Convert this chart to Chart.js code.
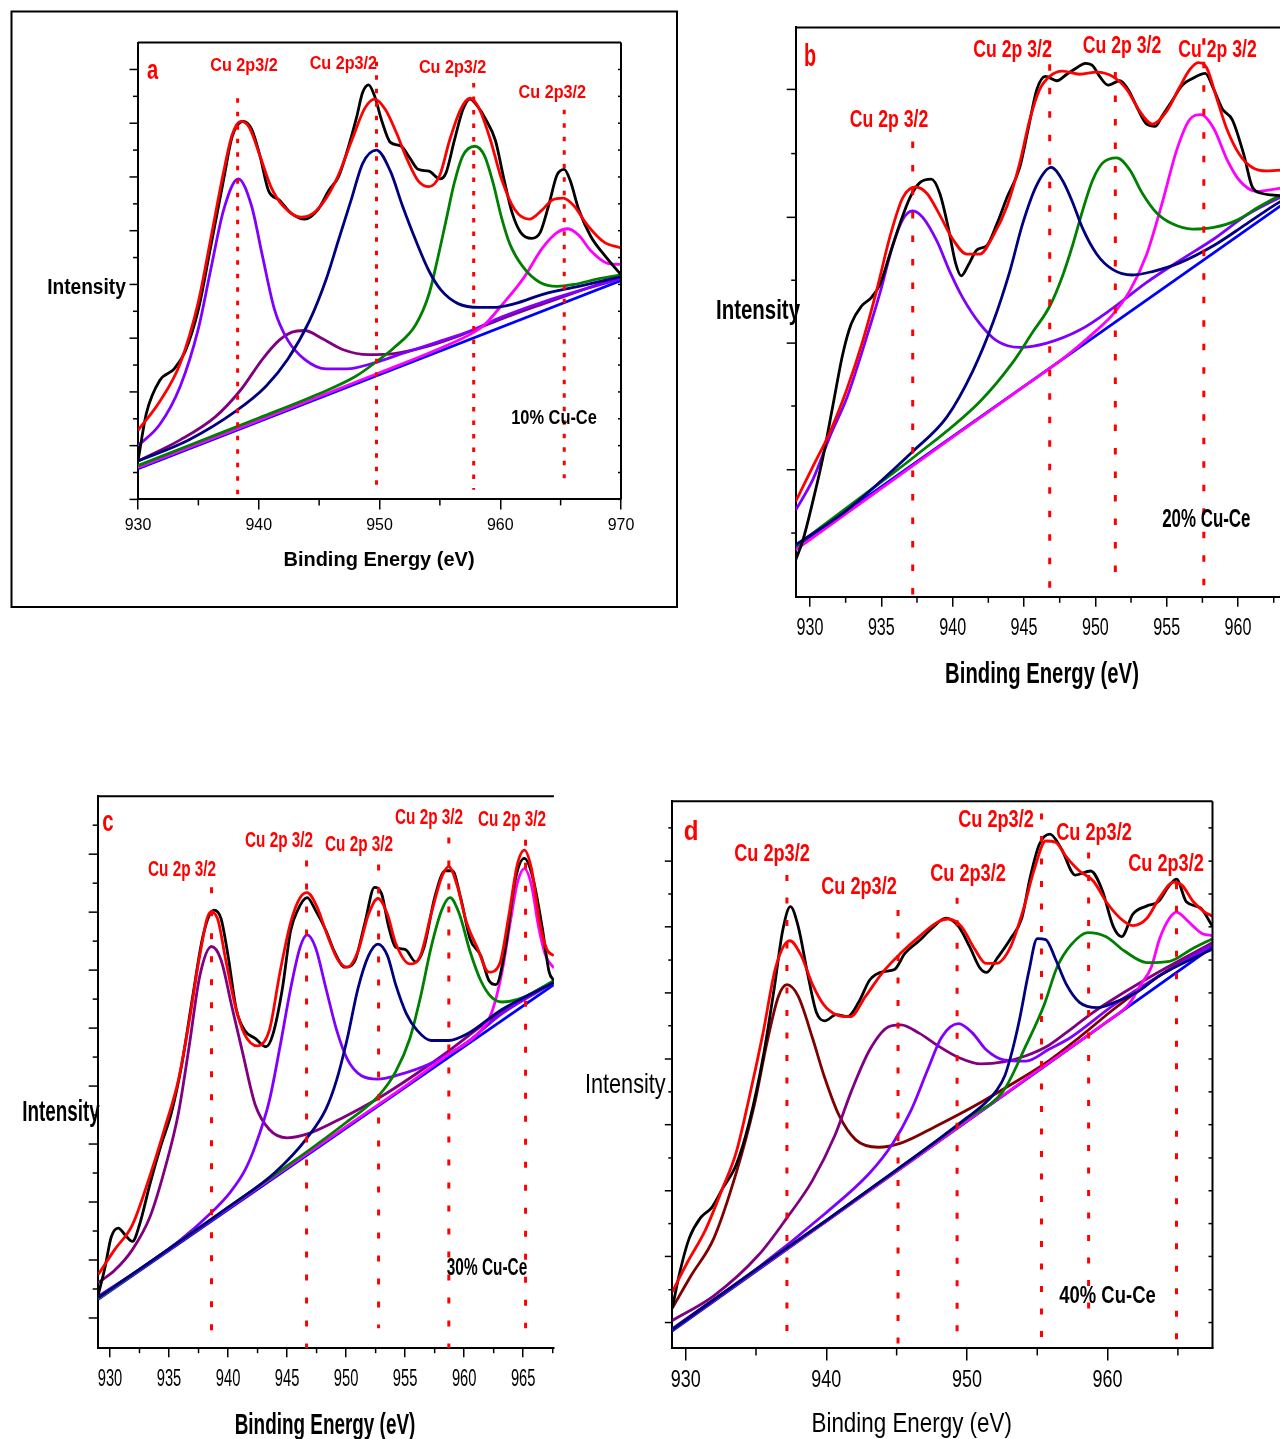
<!DOCTYPE html>
<html><head><meta charset="utf-8">
<script src="https://cdn.jsdelivr.net/npm/chart.js@4.4.1/dist/chart.umd.min.js"></script>
<style>
html,body{margin:0;padding:0;background:#fff;width:1280px;height:1439px;overflow:hidden;position:relative;}
canvas{position:absolute;}
</style></head><body>
<canvas id="ca" width="690" height="615" style="left:0px;top:0px"></canvas>
<canvas id="cb" width="630" height="700" style="left:700px;top:0px"></canvas>
<canvas id="cc" width="570" height="739" style="left:0px;top:700px"></canvas>
<canvas id="cd" width="710" height="739" style="left:570px;top:700px"></canvas>
<script>
// ---------------- Panel a : 10% Cu-Ce ----------------
const aXLabels = [930,940,950,960,970];
const aXMinor = [935,945,955,965];
const aYMajor = [0,140,280,420,560,700,840,980,1120];
const aYMinor = [70,210,350,490,630,770,910,1050];
const aBlack = [[930.0,100],[930.7,225],[931.8,310],[933.0,340],[933.9,385],[935.0,495],[936.0,655],[937.1,835],[937.8,945],[938.7,985],[939.4,965],[940.1,895],[940.8,805],[941.7,780],[942.7,745],[943.8,730],[944.9,755],[945.8,805],[946.6,840],[947.3,905],[948.1,995],[948.6,1060],[949.1,1080],[949.6,1050],[950.2,985],[950.9,930],[951.8,920],[952.5,890],[953.2,860],[954.1,855],[955.0,835],[955.5,850],[956.2,935],[956.9,1015],[957.5,1043],[958.1,1025],[958.8,990],[959.6,935],[960.3,835],[961.0,745],[961.7,695],[962.6,680],[963.3,695],[964.0,765],[964.7,845],[965.3,860],[965.8,830],[966.5,755],[967.5,685],[968.8,630],[970.0,585]];
const aFit = [[930.0,180],[931.8,255],[933.5,355],[935.0,515],[936.0,675],[937.1,855],[937.8,950],[938.5,985],[939.2,970],[940.1,895],[941.0,815],[942.0,765],[943.5,735],[944.5,745],[945.6,785],[946.6,845],[947.7,935],[948.8,1020],[949.6,1043],[950.5,1015],[951.4,955],[952.3,885],[953.2,830],[954.1,815],[955.0,845],[955.8,935],[956.7,1015],[957.5,1045],[958.3,1015],[959.2,935],[960.1,835],[961.2,755],[962.4,730],[963.5,755],[964.3,780],[965.2,785],[966.1,765],[967.2,715],[968.6,670],[970.0,655]];
const aBase = [[930,80],[970,570]];
const aMagenta = [[930,83],[940,206],[950,330],[955,393],[957.8,435],[958.7,455],[960.1,505],[961.9,575],[963.5,655],[964.7,695],[965.6,705],[966.5,688],[967.5,648],[968.9,615],[970,612]];
const aGreen = [[930,88],[935,150],[940,212],[945,275],[948,320],[949.8,360],[951.2,395],[953.0,455],[954.1,535],[954.8,625],[955.5,725],[956.2,825],[956.9,895],[957.9,920],[958.7,895],[959.4,825],[960.1,735],[960.8,665],[961.9,605],[963.3,565],[964.7,555],[966.1,560],[968.2,575],[970,585]];
const aNavy = [[930,100],[934.2,155],[938.1,230],[940.6,295],[942.4,365],[944.2,465],[945.6,575],[946.6,675],[947.7,785],[948.6,875],[949.75,910],[950.9,855],[951.9,765],[953.0,675],[954.1,595],[955.1,545],[956.5,510],[958.3,500],[959.4,500],[961.2,510],[963.6,535],[966.5,555],[970,580]];
const aViolet = [[930,140],[931.8,195],[933.5,295],[935,445],[936,595],[937.1,755],[938.3,835],[939.4,765],[940.3,635],[941.3,495],[942.4,415],[943.8,365],[945.6,340],[947.3,340],[949.5,355],[951.9,380],[954.8,410],[957.6,440],[960.1,475],[963.6,515],[967.2,550],[970,575]];
const aPurple = [[930,100],[933.5,155],[936.4,215],[938.5,285],[940.3,365],[941.7,415],[942.7,435],[943.8,440],[945.2,420],[947,390],[949.1,377],[951.2,380],[954.1,400],[956.9,430],[960.1,470],[963.6,510],[967.2,550],[970,580]];
const aPeakX = [938.25,949.75,957.8,965.3];
const aPeakTop = [1045,1140,1085,1015];
const aPeakBottom = [0,35,25,55];

// ---------------- Panel b : 20% Cu-Ce ----------------
const bXLabels = [930,935,940,945,950,955,960,965];
const bXMinor = [932.5,937.5,942.5,947.5,952.5,957.5,962.5];
const bYMajor = [293,585,875,1170];
const bYMinor = [147,440,730,1022];
const bBlack = [[929.0,85],[929.5,130],[930.2,220],[930.9,320],[931.6,440],[932.3,560],[932.9,630],[933.6,670],[934.3,690],[934.9,720],[935.6,790],[936.3,860],[937.0,920],[937.7,955],[938.5,963],[939.1,930],[939.7,850],[940.2,770],[940.6,740],[941.1,765],[941.7,800],[942.4,810],[943.1,860],[943.8,920],[944.7,990],[945.3,1080],[945.9,1170],[946.5,1200],[947.3,1190],[948.0,1205],[948.7,1220],[949.3,1230],[949.8,1225],[950.3,1200],[950.9,1180],[951.7,1190],[952.3,1170],[952.9,1130],[953.6,1090],[954.2,1085],[954.7,1110],[955.4,1145],[956.1,1180],[956.8,1195],[957.7,1207],[958.3,1170],[958.9,1125],[959.6,1100],[960.4,1020],[961.0,945],[961.7,930],[962.9,925],[963.6,922]];
const bFit = [[929.0,220],[930.2,300],[931.4,380],[932.6,480],[933.7,590],[934.7,710],[935.6,830],[936.5,920],[937.4,945],[938.2,930],[939.1,880],[940.0,825],[941.0,790],[941.9,790],[942.8,830],[943.8,900],[944.7,1000],[945.4,1100],[946.1,1170],[946.8,1200],[947.7,1212],[948.9,1205],[950.1,1210],[951.2,1200],[952.2,1170],[953.1,1120],[954.0,1090],[955.0,1120],[955.9,1175],[956.6,1215],[957.2,1232],[957.8,1220],[958.5,1150],[959.2,1080],[960.1,1020],[961.0,990],[962.0,982],[963.6,985]];
const bBase = [[929,115],[963.6,916]];
const bMagenta = [[929,108],[935,250],[940,368],[945,485],[948,556],[950.0,612],[951.2,650],[952.4,705],[953.6,790],[954.7,910],[955.7,1030],[956.6,1100],[957.4,1112],[958.3,1080],[959.2,1010],[960.1,960],[961.3,935],[962.9,942],[963.6,945]];
const bGreen = [[929,117],[935,265],[937.2,320],[941.9,450],[944.2,540],[945.6,610],[946.8,670],[947.7,740],[948.4,810],[949.1,890],[949.8,960],[950.5,1000],[951.5,1012],[952.4,985],[953.3,930],[954.3,885],[955.4,860],[956.8,848],[958.3,852],[959.9,868],[961.5,900],[962.9,925],[963.6,935]];
const bNavy = [[929,120],[932.6,200],[937.2,335],[939.6,415],[941.4,520],[942.8,630],[944.0,750],[944.9,860],[945.9,950],[946.9,990],[947.7,960],[948.4,910],[949.1,850],[950.1,790],[951.2,755],[952.6,742],[954.0,750],[955.9,770],[958.3,810],[960.6,860],[962.9,910],[963.6,922]];
const bViolet = [[929,200],[930.2,270],[931.4,370],[932.6,460],[933.7,570],[934.9,700],[935.8,810],[936.5,870],[937.2,890],[937.9,875],[938.9,820],[939.8,750],[940.7,690],[941.9,630],[943.1,590],[944.7,575],[946.6,585],[948.9,615],[951.2,665],[953.6,725],[955.9,775],[958.3,825],[960.6,880],[962.9,920],[963.6,930]];
const bPeakX = [937.2,946.8,951.4,957.6];
const bPeakTop = [1050,1282,1210,1288];
const bPeakBottom = [0,0,40,20];

// ---------------- Panel c : 30% Cu-Ce ----------------
const cXLabels = [930,935,940,945,950,955,960,965];
const cXMinor = [932.5,937.5,942.5,947.5,952.5,957.5,962.5,967.5];
const cYMajor = [73,213,353,493,633,773,913,1053,1193];
const cYMinor = [143,283,423,563,703,843,983,1123,1263];
const cBlack = [[929.0,128],[929.6,198],[930.1,268],[930.7,290],[931.3,273],[931.9,258],[932.5,298],[933.4,398],[934.3,488],[935.2,568],[936.1,688],[937.0,848],[937.9,998],[938.8,1058],[939.4,1038],[940.0,948],[940.7,818],[941.4,768],[942.3,748],[943.2,728],[943.8,758],[944.6,868],[945.3,1008],[945.9,1058],[946.7,1088],[947.4,1058],[948.3,1008],[949.0,958],[949.9,920],[950.7,933],[951.6,1028],[952.4,1113],[953.0,1098],[953.6,1018],[954.2,968],[955.0,963],[955.9,933],[956.6,968],[957.5,1088],[958.4,1153],[959.0,1153],[959.7,1088],[960.5,988],[961.4,948],[962.1,888],[962.7,878],[963.5,968],[964.3,1128],[965.1,1183],[965.8,1138],[966.6,1018],[967.2,908],[967.6,888]];
const cFit = [[929.0,178],[930.4,238],[931.9,298],[933.4,418],[934.6,528],[935.8,648],[936.7,788],[937.6,948],[938.5,1053],[939.1,1038],[939.8,938],[940.6,828],[941.4,758],[942.5,730],[943.5,768],[944.4,908],[945.3,1028],[946.1,1088],[946.7,1100],[947.5,1068],[948.4,998],[949.3,938],[950.1,920],[951.0,958],[951.9,1048],[952.7,1086],[953.5,1048],[954.2,978],[955.4,928],[956.3,948],[957.2,1048],[958.1,1138],[958.7,1163],[959.4,1118],[960.2,1028],[961.1,968],[962.1,908],[963.0,928],[963.8,1048],[964.5,1168],[965.1,1203],[965.7,1158],[966.4,1028],[967.0,963],[967.6,948]];
const cBase = [[929,118],[967.6,878]];
const cMagenta = [[929,120],[940,338],[950,535],[955,633],[958.7,710],[961.1,758],[962.3,808],[963.2,908],[963.9,1028],[964.5,1123],[965.1,1158],[965.7,1118],[966.3,1018],[966.9,948],[967.6,918]];
const cGreen = [[929,120],[935,240],[940,340],[945,440],[950,545],[952.7,608],[954.2,668],[955.4,748],[956.3,848],[957.2,968],[958.1,1058],[958.8,1088],[959.6,1048],[960.5,958],[961.4,888],[962.3,848],[963.2,836],[964.6,843],[966.1,863],[967.6,888]];
const cNavy = [[929,122],[935,240],[940,340],[944,425],[946.7,508],[948.3,578],[949.2,648],[950.1,748],[951.0,868],[951.9,948],[952.7,976],[953.5,948],[954.2,878],[955.1,808],[956.0,768],[957.2,743],[958.7,743],[960.2,758],[963.2,818],[967.6,883]];
const cViolet = [[929,125],[933,200],[936,262],[938.5,325],[940.2,377],[941.4,428],[942.3,488],[943.5,598],[944.4,728],[945.3,868],[946.1,968],[946.7,998],[947.4,968],[948.3,868],[949.2,768],[950.1,698],[951.3,658],[952.7,650],[954.2,658],[957.2,688],[960.2,738],[963.2,808],[967.6,883]];
const cPurple = [[929,158],[930.4,188],[931.9,238],[933.4,318],[934.6,428],[935.8,568],[936.7,728],[937.6,898],[938.6,970],[939.4,938],[940.3,828],[941.2,718],[942.3,588],[943.5,528],[945.0,508],[946.8,518],[949.8,558],[952.7,603],[955.7,658],[958.7,718],[961.7,783],[964.6,838],[967.6,886]];
const cPeakX = [938.6,946.65,952.75,958.7,965.2];
const cPeakTop = [1113,1178,1168,1233,1228];
const cPeakBottom = [18,0,48,0,48];

// ---------------- Panel d : 40% Cu-Ce ----------------
const dXLabels = [930,940,950,960];
const dXMinor = [935,945,955,965];
const dYMajor = [63,224,384,545,705,866,1027,1187];
const dYMinor = [143,304,464,625,786,946,1107,1268];
const dBlack = [[929.05,98],[929.6,188],[930.25,268],[931.05,318],[931.85,343],[932.6,388],[933.6,448],[934.5,548],[935.5,708],[936.3,878],[936.9,1018],[937.45,1076],[938.0,1028],[938.7,908],[939.3,818],[939.9,798],[940.7,813],[941.5,808],[942.3,843],[943.1,898],[944.05,918],[944.85,923],[945.6,963],[946.6,993],[947.5,1023],[948.5,1048],[949.4,1028],[950.2,978],[950.9,928],[951.4,916],[952.1,948],[953.1,998],[953.9,1048],[954.5,1148],[955.15,1228],[955.9,1253],[956.7,1218],[957.7,1153],[958.8,1163],[959.6,1118],[960.4,1028],[961.0,1003],[961.8,1058],[962.8,1078],[963.6,1088],[964.4,1128],[964.9,1143],[965.6,1088],[966.6,1073],[967.46,1028]];
const dFit = [[929.05,138],[930.1,208],[931.4,288],[932.6,388],[933.6,478],[934.5,608],[935.5,768],[936.4,928],[937.4,993],[938.2,958],[939.0,888],[939.8,838],[940.7,813],[941.7,808],[942.8,858],[944.05,918],[945.3,963],[946.6,1003],[947.9,1038],[948.65,1046],[949.6,1028],[950.55,973],[951.35,938],[952.1,938],[953.1,978],[954.0,1068],[954.8,1168],[955.6,1236],[956.3,1233],[957.05,1198],[958.0,1163],[959.0,1138],[959.9,1088],[960.9,1048],[961.8,1030],[962.8,1048],[963.7,1098],[964.7,1136],[965.3,1128],[966.1,1088],[966.9,1063],[967.46,1053]];
const dBase = [[929.05,43],[967.46,978]];
const dMagenta = [[929.05,45],[935,190],[940,310],[945,432],[950,554],[955,676],[960,797],[961.5,838],[962.4,888],[963.1,928],[963.7,998],[964.4,1048],[964.9,1063],[965.5,1048],[966.1,1028],[966.75,1010],[967.46,1006]];
const dGreen = [[929.05,46],[935,192],[940,312],[945,435],[950,560],[952.6,628],[954.2,738],[955.5,838],[956.4,928],[957.4,983],[958.6,1013],[959.9,1003],[961.2,968],[962.8,940],[964.4,943],[966.0,973],[967.46,998]];
const dNavy = [[929.05,46],[935,192],[940,312],[945,435],[948,510],[950,562],[951.3,598],[952.1,628],[952.7,665],[953.2,722],[953.7,795],[954.4,918],[955.0,998],[955.6,996],[956.3,948],[957.05,888],[958.0,843],[959.3,830],[960.5,843],[962.1,868],[963.7,908],[967.46,973]];
const dViolet = [[929.05,48],[935.2,198],[939.9,328],[943.1,428],[944.7,498],[946.0,578],[947.2,678],[948.2,758],[949.4,791],[950.4,768],[951.35,728],[952.6,703],[954.2,700],[955.8,728],[957.4,758],[960.5,838],[963.7,908],[967.46,983]];
const dPurple = [[929.05,68],[932.0,128],[935.2,228],[937.2,318],[939.0,408],[940.6,518],[941.8,628],[943.1,728],[944.4,783],[945.3,788],[946.6,768],[947.9,738],[949.45,708],[951.0,693],[952.6,698],[954.2,713],[955.8,738],[957.4,778],[958.95,818],[960.5,853],[963.7,918],[967.46,988]];
const dMaroon = [[929.05,98],[930.4,178],[932.0,268],[933.6,428],[934.85,588],[935.8,748],[936.6,858],[937.2,886],[938.0,858],[939.0,758],[939.9,658],[940.9,568],[942.1,508],[943.7,490],[945.3,500],[947.9,543],[950.4,588],[952.9,638],[955.5,693],[958.0,758],[960.5,828],[963.7,908],[967.46,988]];
const dPeakX = [937.2,945.1,949.3,955.3,958.65,964.9];
const dPeakTop = [1153,1068,1098,1303,1208,1133];
const dPeakBottom = [28,0,28,3,78,3];

// ---------------- helpers ----------------
const RED = '#ff0000';
const C = {black:'#000000', red:'#ff0000', navy:'#000080', green:'#008000', magenta:'#ff00ff', violet:'#8000ff', purple:'#800080', blue:'#0000ff', maroon:'#800000'};
const LW = 2.8;
function pts(arr){ return arr.map(p => ({x:p[0], y:p[1]})); }
function curve(arr, color){ return {data: pts(arr), borderColor: color, borderWidth: LW, pointRadius: 0, fill: false, cubicInterpolationMode: 'monotone'}; }
function vlines(xs, tops, bots, dash){
  return xs.map((x,i) => ({data:[{x:x, y:tops[i]},{x:x, y:bots[i]}], borderColor: RED, borderWidth: 3, borderDash: dash, borderCapStyle:'butt', pointRadius: 0, tension: 0, fill: false}));
}
const SANS = '"Liberation Sans", Arial, Helvetica, sans-serif';

function drawText(ctx, txt, x, y, size, bold, color, k) {
  ctx.save();
  ctx.translate(x, y);
  ctx.scale(k, 1);
  ctx.font = (bold ? 'bold ' : '') + size + 'px ' + SANS;
  ctx.fillStyle = color || '#000';
  ctx.textAlign = 'center';
  ctx.textBaseline = 'alphabetic';
  ctx.fillText(txt, 0, 0);
  ctx.restore();
}

const deco = {
  id: 'deco',
  afterDraw(chart, args, o) {
    const ctx = chart.ctx, a = chart.chartArea, xs = chart.scales.x, ys = chart.scales.y;
    ctx.save();
    ctx.strokeStyle = '#000';
    ctx.lineCap = 'butt';
    const line = (x1,y1,x2,y2) => { ctx.beginPath(); ctx.moveTo(x1,y1); ctx.lineTo(x2,y2); ctx.stroke(); };
    ctx.lineWidth = 1.5;
    o.yMajor.forEach(v => { const p = ys.getPixelForValue(v); line(a.left - o.yMajLen, p, a.left, p); if (o.mirror) line(a.right, p, a.right - o.mirLen, p); });
    o.yMinor.forEach(v => { const p = ys.getPixelForValue(v); line(a.left - o.yMinLen, p, a.left, p); if (o.mirror) line(a.right, p, a.right - o.mirLen, p); });
    o.xMinor.forEach(v => { const p = xs.getPixelForValue(v); line(p, a.bottom, p, a.bottom + o.xMinLen); });
    ctx.lineWidth = 2;
    line(a.left, a.top, a.right, a.top);
    if (o.rightFrame) line(a.right, a.top, a.right, a.bottom);
    if (o.outer) { ctx.strokeRect(o.outer[0] - o.ox, o.outer[1] - o.oy, o.outer[2], o.outer[3]); }
    // x tick labels, taken from the scale's own ticks
    xs.ticks.forEach(tk => {
      drawText(ctx, String(tk.value), xs.getPixelForValue(tk.value), o.tick.y - o.oy, o.tick.s, false, '#000', o.tick.k);
    });
    for (const t of o.texts) drawText(ctx, t.t, t.x - o.ox, t.y - o.oy, t.s, t.b, t.c, t.k);
    ctx.restore();
  }
};

function makeChart(id, cfg) {
  return new Chart(document.getElementById(id), {
    type: 'line',
    data: { datasets: cfg.datasets },
    options: {
      responsive: false, animation: false, events: [],
      layout: { padding: cfg.pad },
      plugins: { legend: {display:false}, tooltip: {enabled:false}, deco: cfg.deco },
      scales: {
        x: { type: 'linear', min: cfg.xmin, max: cfg.xmax,
             afterBuildTicks: s => { s.ticks = cfg.xLabels.map(v => ({value: v})); },
             afterFit: s => { s.height = cfg.xh; },
             ticks: { display: false, autoSkip: false, maxRotation: 0 },
             grid: { display: true, drawOnChartArea: false, drawTicks: true, tickLength: cfg.xMajLen, color: '#000', lineWidth: 1.5 },
             border: { display: true, color: '#000', width: 2 } },
        y: { type: 'linear', min: 0, max: cfg.ymax,
             afterFit: s => { s.width = cfg.yw; },
             ticks: { display: false },
             grid: { display: false },
             border: { display: true, color: '#000', width: 2 } }
      }
    },
    plugins: [deco]
  });
}

// ---------------- Panel a ----------------
makeChart('ca', {
  xmin: 930, xmax: 970, ymax: 1190, xLabels: aXLabels,
  pad: {left: 0, top: 42.6, right: 69, bottom: 0}, yw: 138, xh: 115.6, xMajLen: 10,
  datasets: [].concat(vlines(aPeakX, aPeakTop, aPeakBottom, [4.5, 9]),
    [curve(aFit, C.red), curve(aBlack, C.black), curve(aNavy, C.navy), curve(aGreen, C.green), curve(aMagenta, C.magenta), curve(aViolet, C.violet), curve(aPurple, C.purple), curve(aBase, C.blue)]),
  deco: { ox: 0, oy: 0, yMajor: aYMajor, yMinor: aYMinor, xMinor: aXMinor, yMajLen: 8.5, yMinLen: 5, xMinLen: 6, mirror: true, mirLen: 3, rightFrame: true,
    outer: [11.5, 11.5, 665.5, 595.5],
    tick: {y: 530, s: 17, k: 0.94},
    texts: [
      {t:'a', x:152.5, y:79, s:28, b:true, c:RED, k:0.72},
      {t:'Cu 2p3/2', x:244, y:71, s:18.6, b:true, c:RED, k:0.87},
      {t:'Cu 2p3/2', x:343.4, y:68.7, s:18.6, b:true, c:RED, k:0.87},
      {t:'Cu 2p3/2', x:452.6, y:73.3, s:18.6, b:true, c:RED, k:0.87},
      {t:'Cu 2p3/2', x:552.3, y:98.3, s:18.6, b:true, c:RED, k:0.87},
      {t:'10% Cu-Ce', x:554, y:424, s:20, b:true, k:0.82},
      {t:'Intensity', x:86.5, y:294, s:22, b:true, k:0.87},
      {t:'Binding Energy (eV)', x:379, y:566, s:20, b:true, k:1.0}
    ] }
});

// ---------------- Panel b ----------------
makeChart('cb', {
  xmin: 929, xmax: 965, ymax: 1313, xLabels: bXLabels,
  pad: {left: 0, top: 27.4, right: 20.6, bottom: 0}, yw: 95.7, xh: 103.2, xMajLen: 10,
  datasets: [].concat(vlines(bPeakX, bPeakTop, bPeakBottom, [6.5, 17]),
    [curve(bFit, C.red), curve(bBlack, C.black), curve(bNavy, C.navy), curve(bGreen, C.green), curve(bMagenta, C.magenta), curve(bViolet, C.violet), curve(bBase, C.blue)]),
  deco: { ox: 700, oy: 0, yMajor: bYMajor, yMinor: bYMinor, xMinor: bXMinor, yMajLen: 9, yMinLen: 4.5, xMinLen: 6, mirror: false, rightFrame: false,
    tick: {y: 635, s: 23, k: 0.7},
    texts: [
      {t:'b', x:810, y:65.5, s:32, b:true, c:RED, k:0.62},
      {t:'Cu 2p 3/2', x:889, y:126.7, s:23.3, b:true, c:RED, k:0.757},
      {t:'Cu 2p 3/2', x:1012.5, y:56.7, s:23.3, b:true, c:RED, k:0.757},
      {t:'Cu 2p 3/2', x:1122, y:52.7, s:23.3, b:true, c:RED, k:0.757},
      {t:'Cu 2p 3/2', x:1217.5, y:56.7, s:23.3, b:true, c:RED, k:0.757},
      {t:'20% Cu-Ce', x:1206.3, y:527.4, s:26, b:true, k:0.65},
      {t:'Intensity', x:758, y:319, s:28, b:true, k:0.73},
      {t:'Binding Energy (eV)', x:1042, y:683.3, s:30, b:true, k:0.676}
    ] }
});

// ---------------- Panel c ----------------
makeChart('cc', {
  xmin: 928.96, xmax: 967.6, ymax: 1333, xLabels: cXLabels,
  pad: {left: 0, top: 96.2, right: 16.1, bottom: 0}, yw: 97.7, xh: 90.8, xMajLen: 9,
  datasets: [].concat(vlines(cPeakX, cPeakTop, cPeakBottom, [6, 17]),
    [curve(cFit, C.red), curve(cBlack, C.black), curve(cNavy, C.navy), curve(cGreen, C.green), curve(cMagenta, C.magenta), curve(cViolet, C.violet), curve(cPurple, C.purple), curve(cBase, C.blue)]),
  deco: { ox: 0, oy: 700, yMajor: cYMajor, yMinor: cYMinor, xMinor: cXMinor, yMajLen: 9, yMinLen: 5, xMinLen: 5, mirror: false, rightFrame: false,
    tick: {y: 1386.3, s: 23, k: 0.64},
    texts: [
      {t:'c', x:108, y:831.4, s:30, b:true, c:RED, k:0.68},
      {t:'Cu 2p 3/2', x:182, y:875.7, s:21.4, b:true, c:RED, k:0.715},
      {t:'Cu 2p 3/2', x:279, y:846.7, s:21.4, b:true, c:RED, k:0.715},
      {t:'Cu 2p 3/2', x:359, y:850.9, s:21.4, b:true, c:RED, k:0.715},
      {t:'Cu 2p 3/2', x:429, y:824, s:21.4, b:true, c:RED, k:0.715},
      {t:'Cu 2p 3/2', x:512, y:826, s:21.4, b:true, c:RED, k:0.715},
      {t:'30% Cu-Ce', x:487, y:1274.5, s:23, b:true, k:0.67},
      {t:'Intensity', x:61, y:1121.3, s:29, b:true, k:0.65},
      {t:'Binding Energy (eV)', x:325, y:1434, s:30, b:true, k:0.63}
    ] }
});

// ---------------- Panel d ----------------
makeChart('cd', {
  xmin: 929.05, xmax: 967.46, ymax: 1333, xLabels: dXLabels,
  pad: {left: 0, top: 101.2, right: 67.5, bottom: 0}, yw: 102.3, xh: 90.6, xMajLen: 12,
  datasets: [].concat(vlines(dPeakX, dPeakTop, dPeakBottom, [6, 16.5]),
    [curve(dFit, C.red), curve(dBlack, C.black), curve(dNavy, C.navy), curve(dGreen, C.green), curve(dMagenta, C.magenta), curve(dViolet, C.violet), curve(dPurple, C.purple), curve(dMaroon, C.maroon), curve(dBase, C.blue)]),
  deco: { ox: 570, oy: 700, yMajor: dYMajor, yMinor: dYMinor, xMinor: dXMinor, yMajLen: 7.5, yMinLen: 4, xMinLen: 7, mirror: true, mirLen: 4, rightFrame: true,
    tick: {y: 1386.7, s: 23, k: 0.78},
    texts: [
      {t:'d', x:691, y:840, s:28, b:true, c:RED, k:0.86},
      {t:'Cu 2p3/2', x:772, y:860.7, s:23, b:true, c:RED, k:0.79},
      {t:'Cu 2p3/2', x:859, y:893.5, s:23, b:true, c:RED, k:0.79},
      {t:'Cu 2p3/2', x:968, y:881.2, s:23, b:true, c:RED, k:0.79},
      {t:'Cu 2p3/2', x:996, y:827, s:23, b:true, c:RED, k:0.79},
      {t:'Cu 2p3/2', x:1094, y:840.2, s:23, b:true, c:RED, k:0.79},
      {t:'Cu 2p3/2', x:1166, y:871, s:23, b:true, c:RED, k:0.79},
      {t:'40% Cu-Ce', x:1107.5, y:1303, s:24, b:true, k:0.77},
      {t:'Intensity', x:625.3, y:1093.3, s:28, b:false, k:0.774},
      {t:'Binding Energy (eV)', x:911.7, y:1431.7, s:28, b:false, k:0.8}
    ] }
});
</script>
</body></html>
